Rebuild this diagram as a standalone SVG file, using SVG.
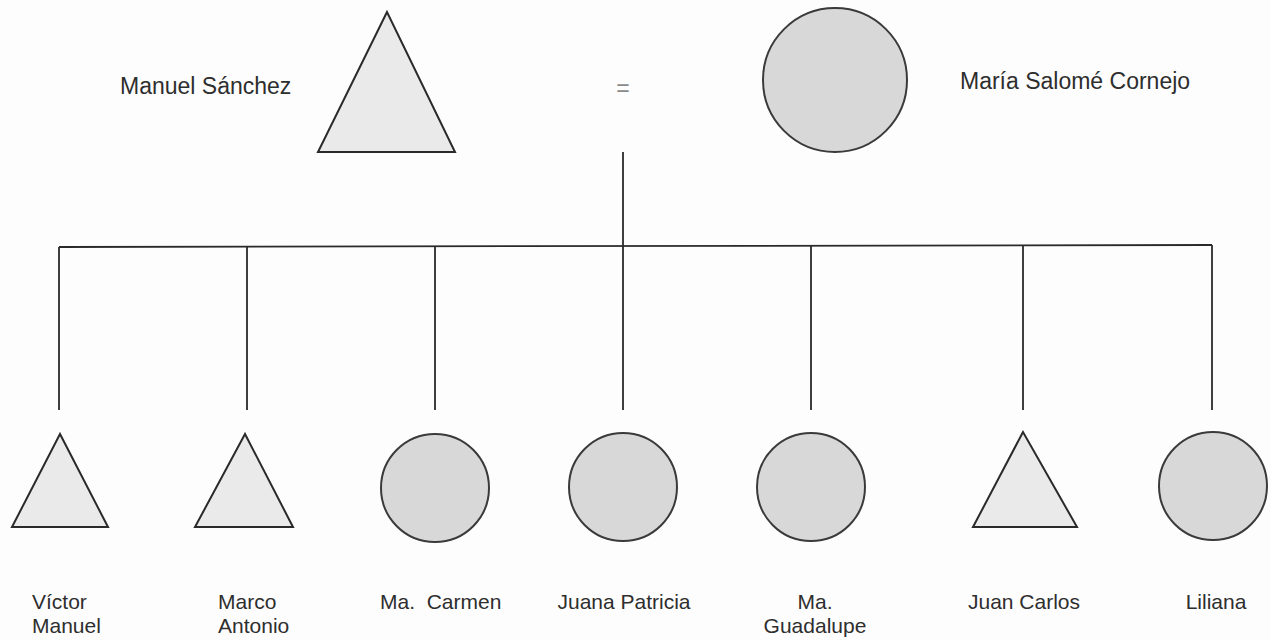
<svg xmlns="http://www.w3.org/2000/svg" width="1271" height="640" viewBox="0 0 1271 640">
<style>
.bg{fill:#fdfdfd}
.m{fill:#eaeaea;stroke:#2a2a2a;stroke-width:2;stroke-linejoin:miter}
.f{fill:#d8d8d8;stroke:#3a3a3a;stroke-width:2}
.ln{stroke:#2a2a2a;stroke-width:1.8;fill:none}
text{font-family:"Liberation Sans",Arial,sans-serif;font-size:21px;fill:#2e2e2e}
.big{font-size:23px}
.c{text-anchor:middle}
</style>
<rect class="bg" x="0" y="0" width="1271" height="640"/>
<g id="connectors">
<line class="ln" x1="623" y1="152" x2="623" y2="410"/>
<line class="ln" x1="59" y1="247" x2="1212" y2="245"/>
<line class="ln" x1="59" y1="247" x2="59" y2="410"/>
<line class="ln" x1="247" y1="247" x2="247" y2="410"/>
<line class="ln" x1="435" y1="246" x2="435" y2="410"/>
<line class="ln" x1="811" y1="246" x2="811" y2="410"/>
<line class="ln" x1="1023" y1="245" x2="1023" y2="410"/>
<line class="ln" x1="1212" y1="245" x2="1212" y2="410"/>
</g>
<g id="manuel-sanchez">
<text class="big" x="120" y="94">Manuel Sánchez</text>
<polygon class="m" points="387,12 318,152 455,152"/>
</g>
<g id="marriage">
<text class="c" x="623" y="96" style="fill:#8a8a8a;font-size:23px">=</text>
</g>
<g id="maria-salome-cornejo">
<circle class="f" cx="835" cy="80" r="72"/>
<text class="big" x="960" y="89">María Salomé Cornejo</text>
</g>
<g id="victor-manuel">
<polygon class="m" points="60,434 12,527 108,527"/>
<text x="32" y="609">Víctor</text>
<text x="32" y="633">Manuel</text>
</g>
<g id="marco-antonio">
<polygon class="m" points="245,434 195,527 293,527"/>
<text x="218" y="609">Marco</text>
<text x="218" y="633">Antonio</text>
</g>
<g id="ma-carmen">
<circle class="f" cx="435" cy="488" r="54"/>
<text x="380" y="609" xml:space="preserve">Ma.  Carmen</text>
</g>
<g id="juana-patricia">
<circle class="f" cx="623" cy="487" r="54"/>
<text class="c" x="624" y="609">Juana Patricia</text>
</g>
<g id="ma-guadalupe">
<circle class="f" cx="811" cy="487" r="54"/>
<text class="c" x="815" y="609">Ma.</text>
<text class="c" x="815" y="633">Guadalupe</text>
</g>
<g id="juan-carlos">
<polygon class="m" points="1023,432 973,527 1077,527"/>
<text class="c" x="1024" y="609">Juan Carlos</text>
</g>
<g id="liliana">
<circle class="f" cx="1213" cy="486" r="54"/>
<text class="c" x="1216" y="609">Liliana</text>
</g>
</svg>
